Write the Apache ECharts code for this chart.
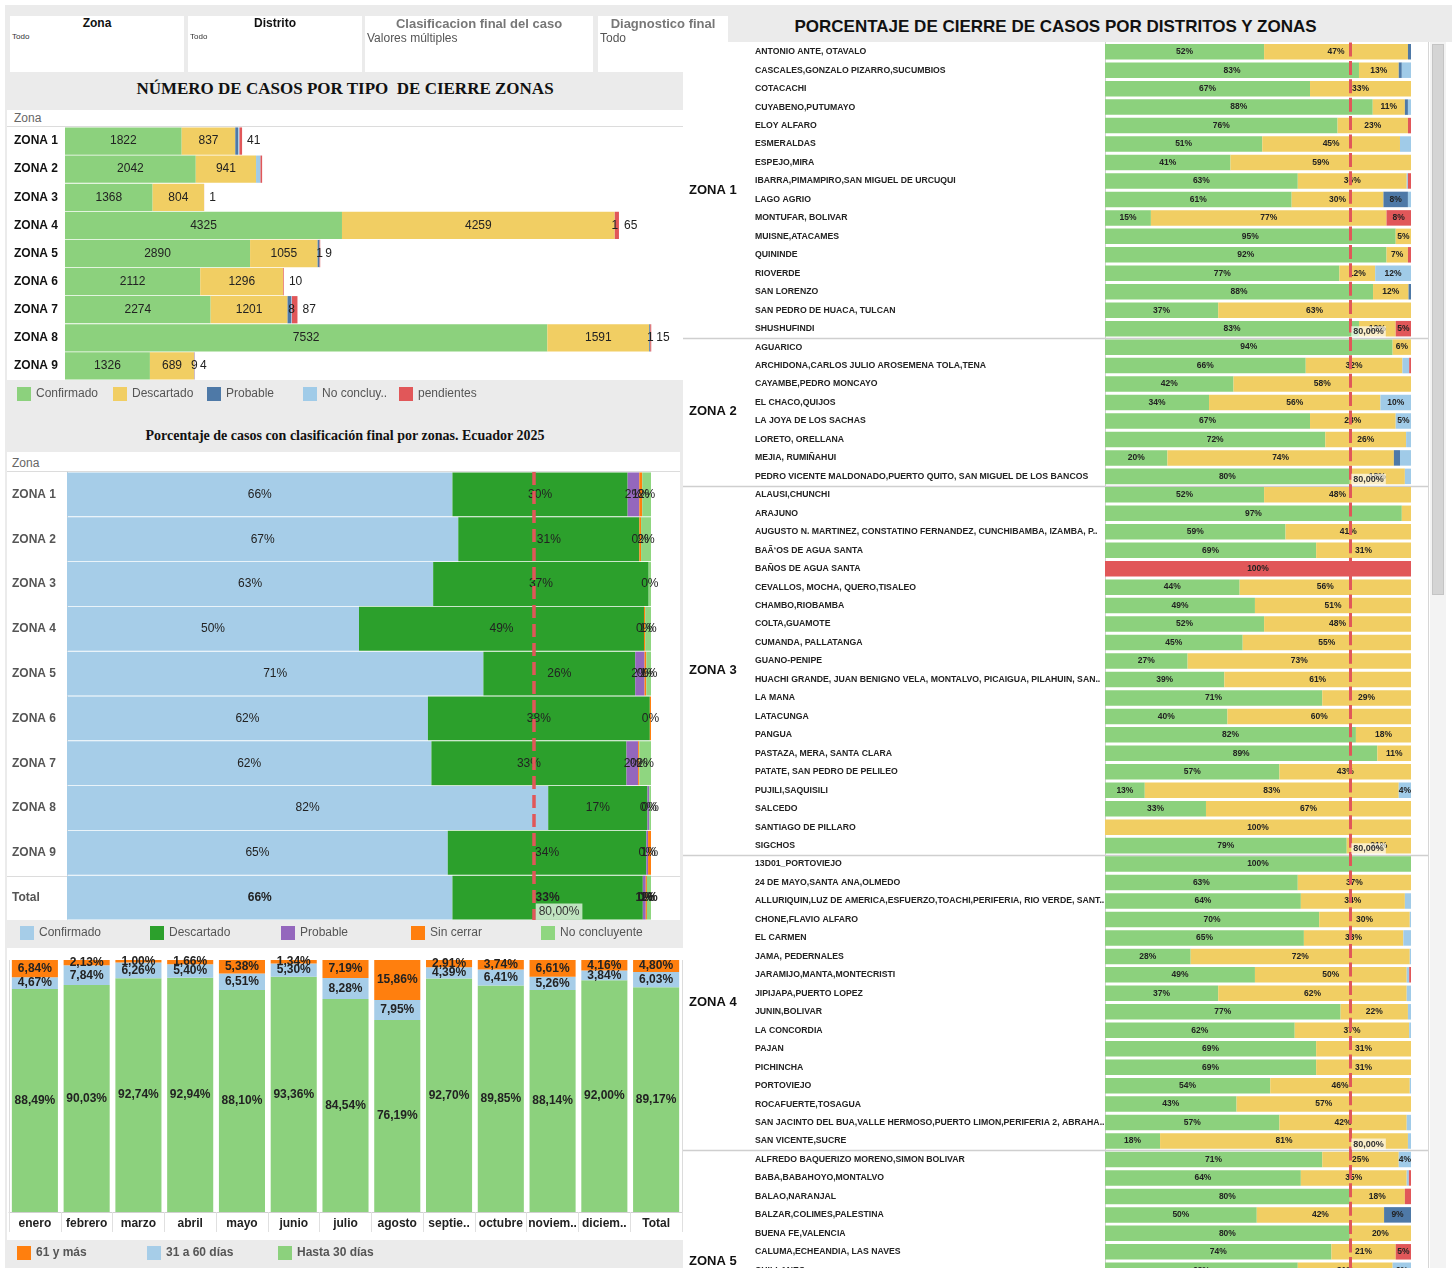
<!DOCTYPE html>
<html lang="es">
<head>
<meta charset="utf-8">
<title>Cierre de casos por zonas</title>
<script src="https://cdn.jsdelivr.net/npm/echarts@6/dist/echarts.min.js"></script>
<style>
  body { margin: 0; width: 1452px; height: 1268px; position: relative; overflow: hidden; background: #fff;
         font-family: 'Liberation Sans', Arial, sans-serif; color: #222; }
  .abs { position: absolute; }
  .gris { background: #ebebeb; }
  .blanco { background: #fff; }
  .filtro { position: absolute; top: 16px; height: 56px; background: #fff; z-index: 3; }
  .filtro .t { text-align: center; font-weight: bold; }
  .titulo-serif { font-family: 'Liberation Serif', 'Times New Roman', serif; font-weight: bold; text-align: center; color: #111; }
  .cab { font-size: 12px; color: #666; }
  .linea { background: #dcdcdc; height: 1px; }
</style>
</head>
<body>
<!-- fondos -->
<div class="abs gris" style="left:5px;top:5px;width:1447px;height:37px"></div>
<div class="abs gris" style="left:5px;top:5px;width:678px;height:1263px"></div>

<!-- filtros -->
<div class="filtro" style="left:10px;width:174px">
  <div class="t" style="font-size:12px;color:#111">Zona</div>
  <div style="font-size:8px;color:#333;margin-left:2px;margin-top:2px">Todo</div>
</div>
<div class="filtro" style="left:188px;width:174px">
  <div class="t" style="font-size:12px;color:#111">Distrito</div>
  <div style="font-size:8px;color:#333;margin-left:2px;margin-top:2px">Todo</div>
</div>
<div class="filtro" style="left:365px;width:228px">
  <div class="t" style="font-size:13px;color:#777">Clasificacion final del caso</div>
  <div style="font-size:12px;color:#555;margin-left:2px">Valores múltiples</div>
</div>
<div class="filtro" style="left:598px;width:130px">
  <div class="t" style="font-size:13px;color:#777">Diagnostico final</div>
  <div style="font-size:12px;color:#555;margin-left:2px">Todo</div>
</div>

<!-- titulos -->
<div class="abs titulo-serif" style="left:7px;top:72px;width:676px;height:33px;line-height:33px;font-size:17px">NÚMERO DE CASOS POR TIPO&nbsp; DE CIERRE ZONAS</div>
<div class="abs titulo-serif" style="left:7px;top:422px;width:676px;height:28px;line-height:28px;font-size:14px">Porcentaje de casos con clasificación final por zonas. Ecuador 2025</div>
<div class="abs" style="left:683px;top:6px;width:745px;height:42px;line-height:42px;text-align:center;font-weight:bold;font-size:17px;color:#111">PORCENTAJE DE CIERRE DE CASOS POR DISTRITOS Y ZONAS</div>

<!-- areas blancas -->
<div class="abs blanco" style="left:7px;top:110px;width:676px;height:270px"></div>
<div class="abs cab" style="left:14px;top:111px">Zona</div>
<div class="abs linea" style="left:7px;top:126px;width:676px"></div>

<div class="abs blanco" style="left:7px;top:452px;width:673px;height:468px"></div>
<div class="abs cab" style="left:12px;top:456px">Zona</div>
<div class="abs linea" style="left:7px;top:471px;width:673px"></div>
<div class="abs linea" style="left:7px;top:876px;width:673px"></div>

<div class="abs blanco" style="left:7px;top:948px;width:676px;height:292px"></div>

<!-- graficos -->
<div id="casosZona" class="abs" style="left:7px;top:110px;width:676px;height:300px"></div>
<div id="porcZona" class="abs" style="left:7px;top:452px;width:676px;height:493px"></div>
<div id="tiempoMes" class="abs" style="left:7px;top:948px;width:676px;height:320px"></div>

<div class="abs blanco" style="left:683px;top:42px;width:745px;height:1226px;overflow:hidden;border-right:1px solid #d6d6d6">
  <div id="distritos" style="width:745px;height:1242px"></div>
</div>
<div class="abs" style="left:1430px;top:42px;width:16px;height:1226px;background:#f3f3f3"></div>
<div class="abs" style="left:1432px;top:44px;width:12px;height:551px;background:#d4d4d4;border:1px solid #c4c4c4;box-sizing:border-box"></div>

<script>
// ---------------- datos ----------------
const zonas = ['ZONA 1', 'ZONA 2', 'ZONA 3', 'ZONA 4', 'ZONA 5', 'ZONA 6', 'ZONA 7', 'ZONA 8', 'ZONA 9']
const confirmado = [1822, 2042, 1368, 4325, 2890, 2112, 2274, 7532, 1326]
const descartado = [837, 941, 804, 4259, 1055, 1296, 1201, 1591, 689]
const probable = [45, 0, 0, 0, 30, 0, 60, 15, 0]
const noConcluyente = [20, 70, 0, 1, 1, 0, 8, 1, 9]
const pendientes = [41, 25, 1, 65, 9, 10, 87, 15, 4]

const zonasTotal = ['ZONA 1', 'ZONA 2', 'ZONA 3', 'ZONA 4', 'ZONA 5', 'ZONA 6', 'ZONA 7', 'ZONA 8', 'ZONA 9', 'Total']
const pConfirmado = [66, 67, 62.7, 50, 71.3, 61.8, 62.4, 82.4, 65.2, 66]
const pDescartado = [30, 31, 36.9, 48.8, 26, 38, 33.4, 17, 34, 32.6]
const pProbable = [2, 0, 0, 0, 1.6, 0, 2, 0.3, 0.3, 0.5]
const pSinCerrar = [0.5, 0.3, 0, 0.2, 0.3, 0.2, 0.2, 0, 0.5, 0.2]
const pNoConcluyente = [1.5, 1.7, 0.4, 1, 0.8, 0, 2, 0.3, 0, 0.7]

const meses = ['enero', 'febrero', 'marzo', 'abril', 'mayo', 'junio', 'julio', 'agosto', 'septie..', 'octubre', 'noviem..', 'diciem..', 'Total']
const hasta30 = [88.49, 90.03, 92.74, 92.94, 88.10, 93.36, 84.54, 76.19, 92.70, 89.85, 88.14, 92.00, 89.17]
const de31a60 = [4.67, 7.84, 6.26, 5.40, 6.51, 5.30, 8.28, 7.95, 4.39, 6.41, 5.26, 3.84, 6.03]
const mas61 = [6.84, 2.13, 1.00, 1.66, 5.38, 1.34, 7.19, 15.86, 2.91, 3.74, 6.61, 4.16, 4.80]

const nombresZona = ['ZONA 1', 'ZONA 2', 'ZONA 3', 'ZONA 4', 'ZONA 5']
const filasPorZona = [16, 8, 20, 16, 12] // la zona 5 sigue debajo del borde visible
const distritos = [
  'ANTONIO ANTE, OTAVALO', 'CASCALES,GONZALO PIZARRO,SUCUMBIOS', 'COTACACHI', 'CUYABENO,PUTUMAYO', 'ELOY ALFARO',
  'ESMERALDAS', 'ESPEJO,MIRA', 'IBARRA,PIMAMPIRO,SAN MIGUEL DE URCUQUI', 'LAGO AGRIO', 'MONTUFAR, BOLIVAR',
  'MUISNE,ATACAMES', 'QUININDE', 'RIOVERDE', 'SAN LORENZO', 'SAN PEDRO DE HUACA, TULCAN', 'SHUSHUFINDI',
  'AGUARICO', 'ARCHIDONA,CARLOS JULIO AROSEMENA TOLA,TENA', 'CAYAMBE,PEDRO MONCAYO', 'EL CHACO,QUIJOS',
  'LA JOYA DE LOS SACHAS', 'LORETO, ORELLANA', 'MEJIA, RUMIÑAHUI', 'PEDRO VICENTE MALDONADO,PUERTO QUITO, SAN MIGUEL DE LOS BANCOS',
  'ALAUSI,CHUNCHI', 'ARAJUNO', 'AUGUSTO N. MARTINEZ, CONSTATINO FERNANDEZ, CUNCHIBAMBA, IZAMBA, P..', 'BAÃ‘OS DE AGUA SANTA',
  'BAÑOS DE AGUA SANTA', 'CEVALLOS, MOCHA, QUERO,TISALEO', 'CHAMBO,RIOBAMBA', 'COLTA,GUAMOTE', 'CUMANDA, PALLATANGA',
  'GUANO-PENIPE', 'HUACHI GRANDE, JUAN BENIGNO VELA, MONTALVO, PICAIGUA, PILAHUIN, SAN..', 'LA MANA', 'LATACUNGA',
  'PANGUA', 'PASTAZA, MERA, SANTA CLARA', 'PATATE, SAN PEDRO DE PELILEO', 'PUJILI,SAQUISILI', 'SALCEDO',
  'SANTIAGO DE PILLARO', 'SIGCHOS',
  '13D01_PORTOVIEJO', '24 DE MAYO,SANTA ANA,OLMEDO', 'ALLURIQUIN,LUZ DE AMERICA,ESFUERZO,TOACHI,PERIFERIA, RIO VERDE, SANT..',
  'CHONE,FLAVIO ALFARO', 'EL CARMEN', 'JAMA, PEDERNALES', 'JARAMIJO,MANTA,MONTECRISTI', 'JIPIJAPA,PUERTO LOPEZ',
  'JUNIN,BOLIVAR', 'LA CONCORDIA', 'PAJAN', 'PICHINCHA', 'PORTOVIEJO', 'ROCAFUERTE,TOSAGUA',
  'SAN JACINTO DEL BUA,VALLE HERMOSO,PUERTO LIMON,PERIFERIA 2, ABRAHA..', 'SAN VICENTE,SUCRE',
  'ALFREDO BAQUERIZO MORENO,SIMON BOLIVAR', 'BABA,BABAHOYO,MONTALVO', 'BALAO,NARANJAL', 'BALZAR,COLIMES,PALESTINA',
  'BUENA FE,VALENCIA', 'CALUMA,ECHEANDIA, LAS NAVES', 'CHILLANES'
]
const dConfirmado = [
  52, 83, 67, 87.5, 76, 51.4, 41, 63, 61, 15, 95, 92, 76.6, 87.6, 37, 83,
  94, 65.6, 42, 34, 67, 72, 20.4, 80,
  52, 97, 59, 69, 0, 44, 49, 52, 45, 27, 39, 71, 40, 82, 89, 57, 13, 33, 0, 79,
  100, 63, 64, 70, 65, 28, 49, 37, 77, 62, 69, 69, 54, 43, 57, 18,
  71, 64, 80, 49.6, 80, 74, 63
]
const dDescartado = [
  47, 13, 33, 10.5, 23, 45, 59, 35.6, 30, 77, 5, 7, 11.7, 11.6, 63, 12,
  6, 31.6, 58, 56, 28, 26.4, 74, 18,
  48, 3, 41, 31, 0, 56, 51, 48, 55, 73, 61, 29, 60, 18, 11, 43, 83, 67, 100, 21,
  0, 37, 34, 29.6, 32.5, 71.6, 49.6, 61.6, 22, 37.4, 31, 31, 45.6, 57, 41.6, 81,
  25, 34.6, 18, 41.6, 20, 21, 31
]
const dProbable = [
  1, 1, 0, 1, 0, 0, 0, 0, 8, 0, 0, 0, 0, 0.8, 0, 0,
  0, 0, 0, 0, 0, 0, 2, 0,
  0, 0, 0, 0, 0, 0, 0, 0, 0, 0, 0, 0, 0, 0, 0, 0, 0, 0, 0, 0,
  0, 0, 0, 0, 0, 0, 0, 0, 0, 0, 0, 0, 0, 0, 0, 0,
  0, 0, 0, 8.8, 0, 0, 0
]
const dNoConcluyente = [
  0, 3, 0, 1, 0, 3.6, 0, 0.4, 1, 0, 0, 0, 11.7, 0, 0, 0,
  0, 2.2, 0, 10, 5, 1.6, 3.6, 2,
  0, 0, 0, 0, 0, 0, 0, 0, 0, 0, 0, 0, 0, 0, 0, 0, 4, 0, 0, 0,
  0, 0, 2, 0.4, 2.5, 0.4, 0.8, 1.4, 1, 0.6, 0, 0, 0.4, 0, 1.4, 1,
  4, 0.7, 0, 0, 0, 0, 6
]
const dPendientes = [
  0, 0, 0, 0, 1, 0, 0, 1, 0, 8, 0, 1, 0, 0, 0, 5,
  0, 0.6, 0, 0, 0, 0, 0, 0,
  0, 0, 0, 0, 100, 0, 0, 0, 0, 0, 0, 0, 0, 0, 0, 0, 0, 0, 0, 0,
  0, 0, 0, 0, 0, 0, 0.6, 0, 0, 0, 0, 0, 0, 0, 0, 0,
  0, 0.7, 2, 0, 0, 5, 0
]
const meta = 80

// ---------------- estilos comunes ----------------
const FUENTE = "'Liberation Sans', Arial, sans-serif"
const VERDE = '#8cd17d'
const AMARILLO = '#f1ce63'
const AZUL = '#4e79a7'
const CELESTE = '#a0cbe8'
const ROJO = '#e15759'

function leyendaUnica(nombre, left, top, bold) {
  return {
    data: [nombre], left: left, top: top, icon: 'rect', itemWidth: 14, itemHeight: 14, itemGap: 0,
    textStyle: { fontSize: 12, color: '#555', fontWeight: bold ? 'bold' : 'normal', fontFamily: FUENTE },
    selectedMode: false,
  }
}
const pct0 = (v) => (v > 0 ? Math.round(v) + '%' : '')
const pct2 = (v) => v.toFixed(2).replace('.', ',') + '%'

// ---------------- 1. numero de casos por zona ----------------
const chart1 = echarts.init(document.getElementById('casosZona'))
const sinEtiqueta = new Set([1])
const etiqueta1 = (extra) => Object.assign({ show: true, position: 'inside', fontSize: 12, color: '#222' }, extra || {})
chart1.setOption({
  animation: false,
  textStyle: { fontFamily: FUENTE },
  grid: { left: 58, top: 17, width: 618, height: 253 },
  xAxis: { type: 'value', min: 0, max: 9650, show: false },
  yAxis: {
    type: 'category', data: zonas, inverse: true,
    axisLine: { show: false }, axisTick: { show: false },
    axisLabel: { align: 'left', margin: 51, fontSize: 12, fontWeight: 'bold', color: '#111' },
  },
  legend: [
    leyendaUnica('Confirmado', 5, 272), leyendaUnica('Descartado', 101, 272), leyendaUnica('Probable', 195, 272),
    leyendaUnica('No concluy..', 291, 272), leyendaUnica('pendientes', 387, 272),
  ],
  series: [
    { name: 'Confirmado', data: confirmado, color: VERDE, label: etiqueta1() },
    { name: 'Descartado', data: descartado, color: AMARILLO, label: etiqueta1() },
    { name: 'Probable', data: probable, color: AZUL, label: { show: false } },
    { name: 'No concluy..', data: noConcluyente, color: CELESTE,
      label: etiqueta1({ formatter: (p) => (p.value > 0 && p.value < 10 ? p.value : '') }) },
    { name: 'pendientes', data: pendientes, color: ROJO,
      label: etiqueta1({ position: 'right', distance: 5, formatter: (p) => (sinEtiqueta.has(p.dataIndex) ? '' : p.value) }) },
  ].map((s) => Object.assign({ type: 'bar', stack: 'casos', barCategoryGap: '3%' }, s)),
})

// ---------------- 2. porcentaje por clasificacion ----------------
const chart2 = echarts.init(document.getElementById('porcZona'))
const conTotal = (arr) => arr.map((v, i) => (i === arr.length - 1 ? { value: v, label: { fontWeight: 'bold' } } : v))
const serie2 = (name, data, color) => ({
  name: name, type: 'bar', stack: 'pct', data: conTotal(data), color: color, barCategoryGap: '2%',
  label: { show: true, position: 'inside', fontSize: 12, color: '#222', formatter: (p) => pct0(p.value) },
})
chart2.setOption({
  animation: false,
  textStyle: { fontFamily: FUENTE },
  grid: { left: 60, top: 20, width: 584, height: 448 },
  xAxis: { type: 'value', min: 0, max: 100, show: false },
  yAxis: {
    type: 'category', data: zonasTotal, inverse: true,
    axisLine: { show: true, lineStyle: { color: '#cccccc', type: 'dotted' } }, axisTick: { show: false },
    axisLabel: { align: 'left', margin: 55, fontSize: 12, fontWeight: 'bold', color: '#555' },
  },
  legend: [
    leyendaUnica('Confirmado', 8, 469), leyendaUnica('Descartado', 138, 469), leyendaUnica('Probable', 269, 469),
    leyendaUnica('Sin cerrar', 399, 469), leyendaUnica('No concluyente', 529, 469),
  ],
  series: [
    serie2('Confirmado', pConfirmado, '#a6cde8'),
    serie2('Descartado', pDescartado, '#2ca02c'),
    serie2('Probable', pProbable, '#9467bd'),
    serie2('Sin cerrar', pSinCerrar, '#ff7f0e'),
    serie2('No concluyente', pNoConcluyente, '#8fd680'),
    {
      type: 'scatter', data: [], silent: true,
      markLine: {
        symbol: 'none', silent: true, label: { show: false },
        lineStyle: { color: ROJO, width: 3.5, type: [13, 6] },
        data: [{ xAxis: meta }],
      },
      markPoint: {
        symbol: 'circle', symbolSize: 1, itemStyle: { color: 'rgba(0,0,0,0)' },
        label: { show: true, position: 'right', distance: 1, offset: [0, 14], formatter: '80,00%',
          fontSize: 12, color: '#333', backgroundColor: 'rgba(255,255,255,0.7)', padding: [2, 3] },
        data: [{ coord: [meta, 'Total'] }],
      },
    },
  ],
})

// ---------------- 3. tiempo de cierre por mes ----------------
const chart3 = echarts.init(document.getElementById('tiempoMes'))
const serie3 = (name, data, color) => ({
  name: name, type: 'bar', stack: 'dias', data: data, color: color, barCategoryGap: '11%',
  label: { show: true, position: 'inside', fontSize: 12, fontWeight: 'bold', color: '#222', formatter: (p) => pct2(p.value) },
})
chart3.setOption({
  animation: false,
  textStyle: { fontFamily: FUENTE },
  grid: { left: 2, top: 12, width: 673, height: 252 },
  xAxis: {
    type: 'category', data: meses,
    axisLine: { show: true, lineStyle: { color: '#d0d0d0' } },
    axisTick: { show: true, interval: 0, length: 20, lineStyle: { color: '#e0e0e0' } },
    axisLabel: { interval: 0, margin: 6, fontSize: 12, fontWeight: 'bold', color: '#222' },
    splitLine: { show: true, interval: (i) => i === 12, lineStyle: { color: '#dcdcdc' } },
  },
  yAxis: { type: 'value', min: 0, max: 100, show: false },
  legend: [
    leyendaUnica('61 y más', 5, 293, true), leyendaUnica('31 a 60 días', 135, 293, true),
    leyendaUnica('Hasta 30 días', 266, 293, true),
  ],
  series: [
    serie3('Hasta 30 días', hasta30, VERDE),
    serie3('31 a 60 días', de31a60, '#a6cde8'),
    serie3('61 y más', mas61, '#ff7f0e'),
  ],
})

// ---------------- 4. porcentaje por distrito ----------------
const chart4 = echarts.init(document.getElementById('distritos'))
const serie4 = (name, data, color) => ({
  name: name, type: 'bar', stack: 'dist', data: data, color: color, barCategoryGap: '16%',
  label: { show: true, position: 'inside', fontSize: 8.5, fontWeight: 'bold', color: '#222',
    formatter: (p) => (p.value >= 4 ? Math.round(p.value) + '%' : '') },
})
const ultimas = []
filasPorZona.slice(0, 4).reduce((acc, n) => { ultimas.push(distritos[acc + n - 1]); return acc + n }, 0)

chart4.setOption({
  animation: false,
  textStyle: { fontFamily: FUENTE },
  grid: { left: 422, top: 0.5, width: 306, height: 1237 },
  xAxis: { type: 'value', min: 0, max: 100, show: false },
  yAxis: {
    type: 'category', data: distritos, inverse: true,
    axisLine: { show: true, lineStyle: { color: '#d0d0d0' } }, axisTick: { show: false },
    axisLabel: { interval: 0, align: 'left', margin: 350, fontSize: 8.7, fontWeight: 'bold', color: '#222' },
  },
  series: [
    serie4('Confirmado', dConfirmado, VERDE),
    serie4('Descartado', dDescartado, AMARILLO),
    serie4('Probable', dProbable, AZUL),
    serie4('No concluyente', dNoConcluyente, CELESTE),
    serie4('pendientes', dPendientes, ROJO),
    {
      type: 'scatter', data: [], silent: true, z: 5,
      markLine: {
        symbol: 'none', silent: true, label: { show: false },
        lineStyle: { color: ROJO, width: 3, type: [14, 4.4] },
        data: [{ xAxis: meta }],
      },
      markPoint: {
        symbol: 'circle', symbolSize: 1, itemStyle: { color: 'rgba(0,0,0,0)' },
        label: { show: true, position: 'right', distance: 1, offset: [0, 3], formatter: '80,00%',
          fontSize: 9, fontWeight: 'bold', color: '#333', backgroundColor: 'rgba(255,255,255,0.65)', padding: [1, 2] },
        data: ultimas.map((d) => ({ coord: [meta, d] })),
      },
    },
  ],
})

// etiquetas de zona y separadores, a partir de la escala del eje
const y0 = chart4.convertToPixel({ yAxisIndex: 0 }, distritos[0])
const paso = chart4.convertToPixel({ yAxisIndex: 0 }, distritos[1]) - y0
const graficos = []
let inicio = 0
filasPorZona.forEach((n, i) => {
  const medio = y0 + (inicio + (n - 1) / 2) * paso
  graficos.push({ type: 'text', x: 6, y: medio,
    style: { text: nombresZona[i], font: "bold 13px 'Liberation Sans', Arial", fill: '#111', verticalAlign: 'middle' } })
  if (inicio > 0) {
    const ys = Math.round(y0 + (inicio - 0.5) * paso) + 0.5
    graficos.push({ type: 'line', shape: { x1: 0, y1: ys, x2: 745, y2: ys }, style: { stroke: '#cfcfcf', lineWidth: 1.5 } })
  }
  inicio += n
})
chart4.setOption({ graphic: graficos })
</script>
</body>
</html>
